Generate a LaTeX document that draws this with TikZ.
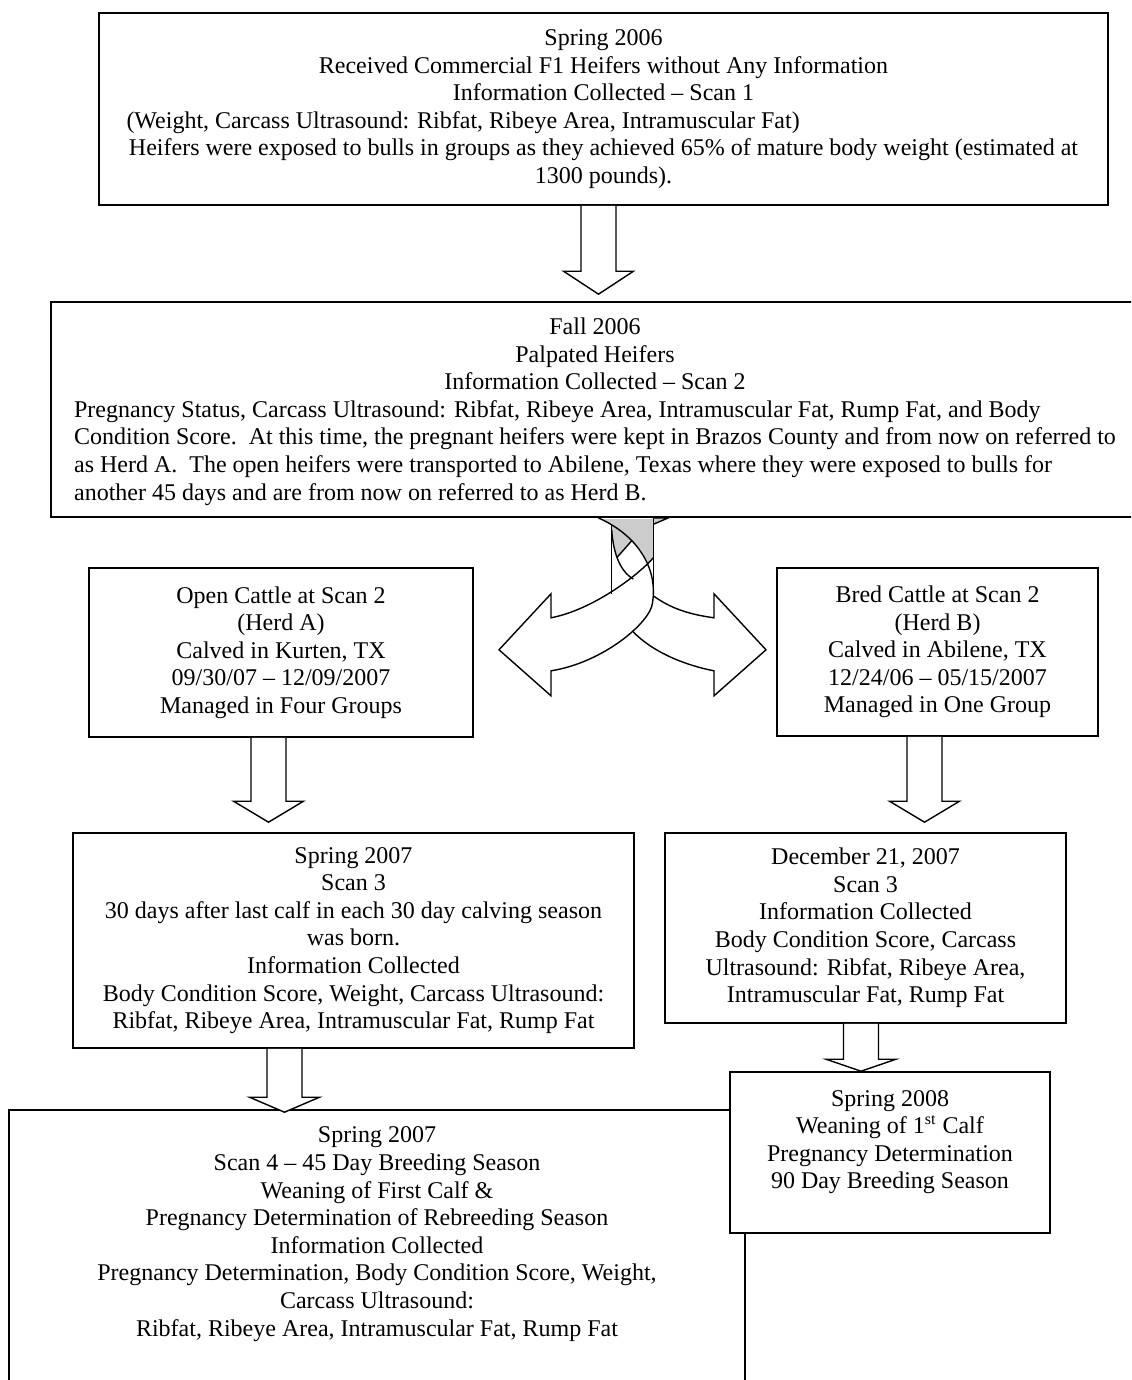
\documentclass[tikz,border=0pt]{standalone}
\usepackage{fontspec}
\setmainfont{Liberation Serif}
\usetikzlibrary{calc}

\newcommand{\blockarrow}[5]{%
  \coordinate (tip) at ($(#2.north -| #3,0)+(0,#4)$);
  \coordinate (tail) at (#1.south -| tip);
  \draw[arrowbody] ($(tail)+(-17.5,0)$) -- ($(tip)+(-17.5,-#5)$) -- ($(tip)+(-35,-#5)$) -- (tip)
    -- ($(tip)+(35,-#5)$) -- ($(tip)+(17.5,-#5)$) -- ($(tail)+(17.5,0)$);
}

\begin{document}
\begin{tikzpicture}[x=0.5pt, y=-0.5pt,
    box/.style={draw, line width=0.8pt, fill=white, inner sep=0pt, align=center,
      font=\fontsize{12}{13.8}\selectfont},
    arrowbody/.style={draw, line width=0.7pt, fill=white, line join=miter},
    ribbon/.style={draw, line width=0.7pt}]
    \useasboundingbox (0,0) rectangle (1131,1380);
    \clip (0,0) rectangle (1131,1380);
    \node[box, minimum width=504.5pt, minimum height=96pt] (spring06) at (603.5,109) {Spring 2006\\
      Received Commercial F1 Heifers without Any Information\\
      Information Collected -- Scan 1\\
      \makebox[477pt][l]{(Weight, Carcass Ultrasound: Ribfat, Ribeye Area, Intramuscular Fat)}\\
      Heifers were exposed to bulls in groups as they achieved 65\% of mature body weight (estimated at\\
      1300 pounds).};
    \node[box, minimum width=544pt, minimum height=107.5pt] (fall06) at (595,409.5) {\rule{0pt}{12pt}Fall 2006\\
      Palpated Heifers\\
      Information Collected -- Scan 2\\
      \begin{tabular}[t]{@{}l@{}}
      Pregnancy Status, Carcass Ultrasound: Ribfat, Ribeye Area, Intramuscular Fat, Rump Fat, and Body\\
      Condition Score.\ \ At this time, the pregnant heifers were kept in Brazos County and from now on referred to\\
      as Herd A.\ \ The open heifers were transported to Abilene, Texas where they were exposed to bulls for\\
      another 45 days and are from now on referred to as Herd B.
      \end{tabular}};
    \node[box, minimum width=192pt, minimum height=84.5pt] (openA) at (281,652.5) {Open Cattle at Scan 2\\
      (Herd A)\\
      Calved in Kurten, TX\\
      09/30/07 -- 12/09/2007\\
      Managed in Four Groups};
    \node[box, minimum width=160.5pt, minimum height=84pt] (bredB) at (937.5,652) {Bred Cattle at Scan 2\\
      (Herd B)\\
      Calved in Abilene, TX\\
      12/24/06 -- 05/15/2007\\
      Managed in One Group};
    \node[box, minimum width=280.5pt, minimum height=107.5pt] (springA) at (353.5,940.5) {Spring 2007\\
      Scan 3\\
      30 days after last calf in each 30 day calving season\\
      was born.\\
      Information Collected\\
      Body Condition Score, Weight, Carcass Ultrasound:\\
      Ribfat, Ribeye Area, Intramuscular Fat, Rump Fat};
    \node[box, minimum width=200.5pt, minimum height=95pt] (decB) at (865.5,928) {December 21, 2007\\
      Scan 3\\
      Information Collected\\
      Body Condition Score, Carcass\\
      Ultrasound: Ribfat, Ribeye Area,\\
      Intramuscular Fat, Rump Fat};
    \node[box, minimum width=368pt, minimum height=145pt] (scanfour) at (377,1255) {Spring 2007\\
      Scan 4 -- 45 Day Breeding Season\\
      Weaning of First Calf \&\\
      Pregnancy Determination of Rebreeding Season\\
      Information Collected\\
      Pregnancy Determination, Body Condition Score, Weight,\\
      Carcass Ultrasound:\\
      Ribfat, Ribeye Area, Intramuscular Fat, Rump Fat\rule[-23.4pt]{0pt}{0pt}};
    \node[box, minimum width=160pt, minimum height=80.5pt] (spring08) at (890,1152.5) {Spring 2008\\
      Weaning of 1\textsuperscript{st} Calf\\
      Pregnancy Determination\\
      90 Day Breeding Season\rule[-13pt]{0pt}{0pt}};
    \coordinate (fork) at (fall06.south -| 632.5,0);
    \begin{scope}[shift={(fork)}]
        \fill[gray!40] (-34.2,1) -- (20.8,1) -- (20.8,40) -- (15.3,45.5) .. controls (9.9,32.6) .. (-0.8,23)
          -- (-15.5,39.6) .. controls (-19.15,27.8) .. (-20.8,12) -- (-20.8,7) -- cycle;
        \draw[ribbon, fill=gray!40] (20.8,0) -- (36,0) -- (20.8,6.5);
        \draw[ribbon] (-20.8,7) -- (-20.8,76.3);
        \draw[ribbon] (20.8,0) -- (20.8,78);
        \draw[ribbon] (20.8,78) .. controls (40,92) and (60,97) .. (81.5,100) -- (81.5,76) -- (133.5,132)
          -- (81.5,178) -- (81.5,153) .. controls (55,148) and (20,135) .. (-0.2,113);
        \draw[ribbon] (20.8,40) .. controls (5,58) and (-40,92) .. (-81.5,100) -- (-81.5,76) -- (-133.5,132)
          -- (-81.5,178) -- (-81.5,153) .. controls (-30,145) and (18,105) .. (20,85)
          .. controls (25,55) and (10,20) .. (-34.2,0);
        \draw[ribbon] (-20.8,12) .. controls (-19,40) and (-10,55) .. (0.8,61.3);
        \draw[ribbon] (-15.5,39.6) -- (-0.8,23);
    \end{scope}
    \blockarrow{spring06}{fall06}{598.5}{-7}{23}
    \blockarrow{openA}{springA}{268.5}{-10}{21}
    \blockarrow{bredB}{decB}{924.5}{-10}{21}
    \blockarrow{decB}{spring08}{861}{0}{12}
    \blockarrow{springA}{scanfour}{284.5}{3}{15}
\end{tikzpicture}
\end{document}
